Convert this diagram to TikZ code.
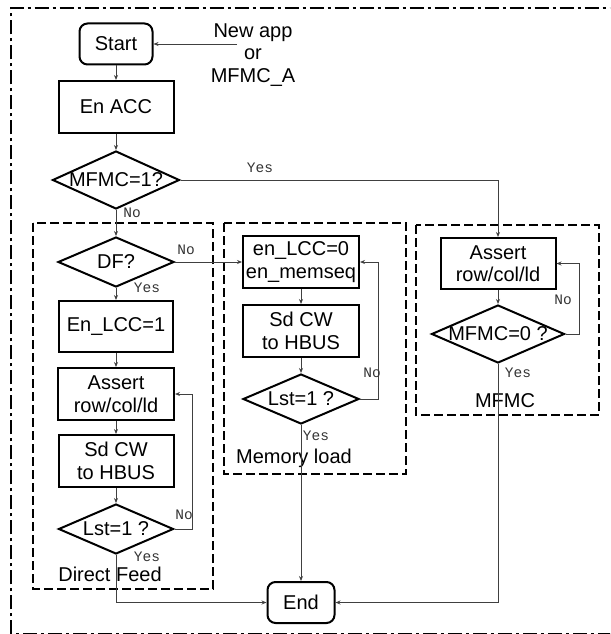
\documentclass[tikz,border=0pt]{standalone}
\usepackage{fontspec}
\setmainfont{Liberation Sans}
\newfontfamily\monofont{Liberation Mono}
\usetikzlibrary{shapes.geometric,arrows.meta}

\begin{document}
\begin{tikzpicture}[x=1pt,y=-1pt,
  box/.style={draw, line width=2pt, rectangle, inner sep=0pt, align=center,
              font=\fontsize{20}{22.5}\selectfont},
  term/.style={box, rounded corners=8pt},
  dia/.style={draw, line width=2pt, diamond, inner sep=0pt,
              font=\fontsize{20}{22.5}\selectfont},
  conn/.style={draw=black!75, line width=0.9pt, -{Stealth[length=5pt,width=4pt]}},
  group/.style={draw, line width=2.2pt, dash pattern=on 9pt off 4pt},
  lbl/.style={font=\monofont\fontsize{14.5}{15}\selectfont, inner sep=0pt, text=black!80},
  grouptitle/.style={font=\fontsize{20}{22.5}\selectfont, inner sep=0pt, align=center},
]
\useasboundingbox (0,0) rectangle (610,634);

% outer dash-dot frame, running off the right and bottom edges
\begin{scope}
  \clip (0,0) rectangle (610,634);
  \draw[line width=2.6pt, dash pattern=on 14pt off 4pt on 3pt off 4pt]
    (11,634.4) -- (11,8) -- (660,8) -- (660,634.4) -- cycle;
\end{scope}

% group frames
\draw[group] (33,223) rectangle (213,589);
\draw[group] (224,223) rectangle (406,474);
\draw[group] (416,225) rectangle (599,415);

% entry
\node[term, minimum width=73, minimum height=41] (start) at (116,44) {Start};
\coordinate (newapp) at (237,44);
\node[grouptitle] (src) at (253,55) {New app\\or\\MFMC\_A};
\node[box, minimum width=115, minimum height=52] (acc) at (116,107) {En ACC};
\node[dia, minimum width=127, minimum height=58] (d1) at (116,180) {\makebox[0pt]{MFMC=1?}};

% direct feed
\node[dia, minimum width=116, minimum height=50] (df) at (116,262) {\makebox[0pt]{DF?}};
\node[box, minimum width=114, minimum height=51] (lcc1) at (116,326.5) {En\_LCC=1};
\node[box, minimum width=116, minimum height=52] (as1) at (116,394) {Assert\\row/col/ld};
\node[box, minimum width=115, minimum height=52] (sd1) at (116,461) {Sd CW\\to HBUS};
\node[dia, minimum width=115, minimum height=50] (lst1) at (116,529) {\makebox[0pt]{Lst=1 ?}};
\node[grouptitle] (dft) at (110,574) {Direct Feed};

% memory load
\node[box, minimum width=116, minimum height=52] (ml1) at (301,262) {en\_LCC=0\\en\_memseq};
\node[box, minimum width=116, minimum height=52] (ml2) at (301,331) {Sd CW\\to HBUS};
\node[dia, minimum width=116, minimum height=50] (lst2) at (301,399) {\makebox[0pt]{Lst=1 ?}};
\node[grouptitle] (mlt) at (294,458) {Memory load};

% MFMC
\node[box, minimum width=115, minimum height=51] (as2) at (498,263.5) {Assert\\row/col/ld};
\node[dia, minimum width=133, minimum height=58] (d2) at (498,334) {\makebox[0pt]{MFMC=0 ?}};
\node[grouptitle] (mft) at (505,401) {MFMC};

% exit
\node[term, minimum width=67, minimum height=41] (end) at (301,602.5) {End};

% connectors
\draw[conn] (newapp) -- (start.east);
\draw[conn] (start) -- (acc);
\draw[conn] (acc) -- (d1);
\draw[conn] (d1) -- (df);
\draw[conn] (d1.east) -| (as2.north);
\draw[conn] (df.east) -- (ml1.west);
\draw[conn] (df) -- (lcc1);
\draw[conn] (lcc1) -- (as1);
\draw[conn] (as1) -- (sd1);
\draw[conn] (sd1) -- (lst1);
\draw[conn] (lst1.east) -- ++(18,0) |- (as1.east);
\draw[conn] (lst1.south) |- (end.west);
\draw[conn] (ml1) -- (ml2);
\draw[conn] (ml2) -- (lst2);
\draw[conn] (lst2.east) -- ++(18,0) |- (ml1.east);
\draw[conn] (lst2) -- (end);
\draw[conn] (as2) -- (d2);
\draw[conn] (d2.east) -- ++(14,0) |- (as2.east);
\draw[conn] (d2.south) |- (end.east);

% branch labels
\node[lbl] (y1) at (260,168) {Yes};
\node[lbl] (n1) at (132,213) {No};
\node[lbl] (n2) at (186,250) {No};
\node[lbl] (y2) at (147,288) {Yes};
\node[lbl] (n3) at (184,515) {No};
\node[lbl] (y3) at (147,557) {Yes};
\node[lbl] (n4) at (372,373) {No};
\node[lbl] (y4) at (316,436) {Yes};
\node[lbl] (n5) at (563,300) {No};
\node[lbl] (y5) at (518,373) {Yes};
\end{tikzpicture}
\end{document}
